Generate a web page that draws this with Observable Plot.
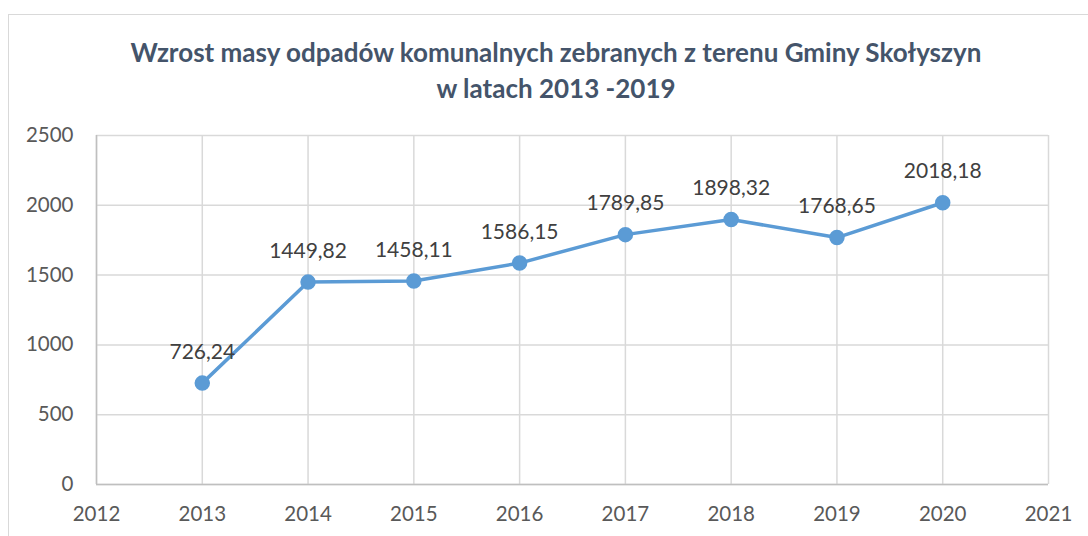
<!DOCTYPE html>
<html>
<head>
<meta charset="utf-8">
<script src="https://cdn.jsdelivr.net/npm/d3@7"></script>
<script src="https://cdn.jsdelivr.net/npm/@observablehq/plot@0.6"></script>
<style>
  html, body { margin: 0; padding: 0; background: #fff; }
  #wrap { position: relative; width: 1088px; height: 536px; overflow: hidden; font-family: Lato, "Open Sans", sans-serif; }
  #border { position: absolute; left: 8px; top: 14px; width: 1200px; height: 700px; border: 1.5px solid #d9d9d9; box-sizing: border-box; }
  #title { position: absolute; left: 0; width: 1112px; top: 34px; text-align: center; font-weight: bold; font-size: 26px; line-height: 36px; color: #44546A; }
  #chart { position: absolute; left: 0; top: 0; }
</style>
</head>
<body>
<div id="wrap">
  <div id="border"></div>
  <div id="chart"></div>
  <div id="title">Wzrost masy odpadów komunalnych zebranych z terenu Gminy Skołyszyn<br>w latach 2013 -2019</div>
</div>
<script>
const years = [2013, 2014, 2015, 2016, 2017, 2018, 2019, 2020];
const values = [726.24, 1449.82, 1458.11, 1586.15, 1789.85, 1898.32, 1768.65, 2018.18];
const xTicks = [2012, 2013, 2014, 2015, 2016, 2017, 2018, 2019, 2020, 2021];
const yTicks = [0, 500, 1000, 1500, 2000, 2500];

const data = years.map((y, i) => ({year: y, value: values[i], label: values[i].toFixed(2).replace(".", ",")}));

const chart = Plot.plot({
  width: 1088,
  height: 536,
  marginLeft: 96,
  marginRight: 40,
  marginTop: 135,
  marginBottom: 52,
  style: {fontFamily: "Lato, 'Open Sans', sans-serif", fontSize: "20px", background: "transparent"},
  x: {domain: [2012, 2021], ticks: xTicks, tickFormat: d => String(d), tickSize: 0, tickPadding: 22, label: null},
  y: {domain: [0, 2500], ticks: yTicks, tickFormat: d => String(d), tickSize: 0, tickPadding: 23, label: null},
  marks: [
    Plot.gridX(xTicks, {stroke: "#d9d9d9", strokeOpacity: 1, strokeWidth: 1.5}),
    Plot.gridY(yTicks, {stroke: "#d9d9d9", strokeOpacity: 1, strokeWidth: 1.5}),
    Plot.ruleY([0], {stroke: "#bfbfbf", strokeWidth: 1.5}),
    Plot.ruleX([2012], {stroke: "#bfbfbf", strokeWidth: 1.5}),
    Plot.axisX({ticks: xTicks, tickFormat: d => String(d), tickSize: 0, tickPadding: 22, fill: "#595959", fontSize: 20.5, label: null}),
    Plot.axisY({ticks: yTicks, tickFormat: d => String(d), tickSize: 0, tickPadding: 23, fill: "#595959", fontSize: 20.5, label: null}),
    Plot.line(data, {x: "year", y: "value", stroke: "#5B9BD5", strokeWidth: 3.5}),
    Plot.dot(data, {x: "year", y: "value", r: 7, fill: "#5B9BD5", stroke: "#5B9BD5"}),
    Plot.text(data, {x: "year", y: "value", text: "label", dy: -31, fill: "#404040", fontSize: 21, textAnchor: "middle", lineAnchor: "middle"})
  ]
});
document.getElementById("chart").appendChild(chart);
</script>
</body>
</html>
